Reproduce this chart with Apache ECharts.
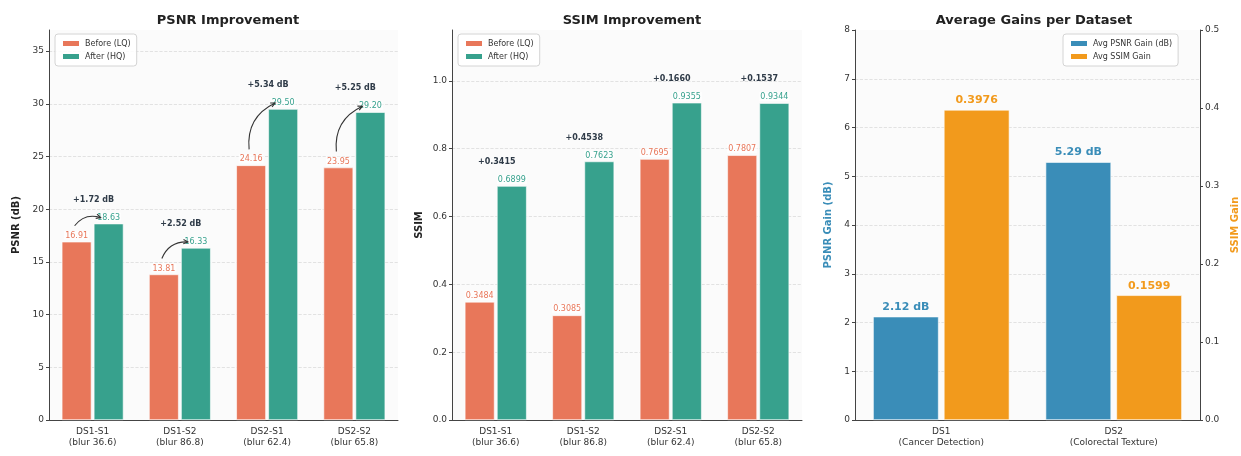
<!DOCTYPE html>
<html>
<head>
<meta charset="utf-8">
<script src="https://cdn.jsdelivr.net/npm/echarts@6/dist/echarts.min.js"></script>
<style>
  html, body { margin: 0; padding: 0; background: #fff; }
  #chart { width: 1241px; height: 456px; }
</style>
</head>
<body>
<div id="chart"></div>
<script>
// Per-subset restoration results
const subsets = ['DS1-S1\n(blur 36.6)', 'DS1-S2\n(blur 86.8)', 'DS2-S1\n(blur 62.4)', 'DS2-S2\n(blur 65.8)'];
const psnrBefore = [16.91, 13.81, 24.16, 23.95];
const psnrAfter = [18.63, 16.33, 29.50, 29.20];
const ssimBefore = [0.3484, 0.3085, 0.7695, 0.7807];
const ssimAfter = [0.6899, 0.7623, 0.9355, 0.9344];

// Per-dataset average gains
const datasets = ['DS1\n(Cancer Detection)', 'DS2\n(Colorectal Texture)'];
const avgPsnrGain = [2.12, 5.29];
const avgSsimGain = [0.3976, 0.1599];

const C_BEFORE = '#E8775A';
const C_AFTER = '#37A18D';
const C_PSNR = '#3A8DB8';
const C_SSIM = '#F29A1C';
const FONT = 'DejaVu Sans';
const BAR_W = 0.34, BAR_GAP = 0.08;

const chart = echarts.init(document.getElementById('chart'), null, { renderer: 'canvas' });

function gridLineColors(n) {
  // dashed guides at every tick except the top edge of the axis
  const arr = [];
  for (let i = 0; i < n; i++) arr.push('#dcdcdc');
  arr.push('rgba(0,0,0,0)');
  return arr;
}

function xCat(gridIndex, data) {
  return {
    type: 'category', gridIndex, data,
    axisLine: { lineStyle: { color: '#444', width: 1 } },
    axisTick: { alignWithLabel: true, length: 3, lineStyle: { color: '#444' } },
    axisLabel: { fontFamily: FONT, fontSize: 9, color: '#333', lineHeight: 11, margin: 6 },
    splitLine: { show: false }
  };
}

function yVal(gridIndex, max, interval, nLines, fmt, name, nameColor, showMax) {
  return {
    type: 'value', gridIndex, min: 0, max, interval,
    name, nameLocation: 'middle', nameGap: 28,
    nameTextStyle: { fontFamily: FONT, fontSize: 10, fontWeight: 'bold', color: nameColor || '#222' },
    axisLine: { show: true, lineStyle: { color: '#444', width: 1 } },
    axisTick: { show: true, length: 3, lineStyle: { color: '#444' } },
    axisLabel: { fontFamily: FONT, fontSize: 9, color: '#333', margin: 5, showMaxLabel: !!showMax, formatter: fmt },
    splitLine: { show: true, lineStyle: { type: 'dashed', color: gridLineColors(nLines), width: 0.8 } }
  };
}

function valueLabel(color, digits) {
  return {
    show: true, position: 'top', distance: 2,
    fontFamily: FONT, fontSize: 8, color,
    backgroundColor: 'rgba(255,255,255,0.75)', padding: [1, 1, 0, 1],
    formatter: p => p.value.toFixed(digits)
  };
}

// Gain annotation (text above each pair, optional curved arrow from before to after)
function gainRenderer(withArrow, digits, unit) {
  return function (params, api) {
    const i = api.value(0), b = api.value(1), a = api.value(2);
    const band = api.size([1, 0])[0];
    const barW = band * BAR_W;
    const off = barW * (1 + BAR_GAP) / 2;
    const pb = api.coord([i, b]);
    const pa = api.coord([i, a]);
    const children = [];
    const gain = a - b;
    children.push({
      type: 'text',
      style: {
        x: pa[0] + 1, y: pa[1] - 24,
        text: '+' + gain.toFixed(digits) + unit,
        align: 'center', verticalAlign: 'middle',
        fontFamily: FONT, fontSize: 8, fontWeight: 'bold', fill: '#2f3b48'
      }
    });
    if (withArrow) {
      const sx = pb[0] - off - 2, sy = pb[1] - 16;
      const ex = pa[0] + off - 8, ey = pa[1] - 6;
      const rad = -0.35;
      const mx = (sx + ex) / 2, my = (sy + ey) / 2;
      const dx = ex - sx, dyUp = -(ey - sy);
      const cx = mx + rad * dyUp;
      const cy = my + rad * dx;
      children.push({
        type: 'bezierCurve',
        shape: { x1: sx, y1: sy, x2: ex, y2: ey, cpx1: cx, cpy1: cy },
        style: { stroke: '#333', fill: null, lineWidth: 1.1 }
      });
      const ang = Math.atan2(ey - cy, ex - cx);
      const L = 5, W = 0.45;
      children.push({
        type: 'polyline',
        shape: { points: [
          [ex - L * Math.cos(ang - W), ey - L * Math.sin(ang - W)],
          [ex, ey],
          [ex - L * Math.cos(ang + W), ey - L * Math.sin(ang + W)]
        ] },
        style: { stroke: '#333', fill: null, lineWidth: 1.1 }
      });
    }
    return { type: 'group', children };
  };
}

const psnrPairs = subsets.map((_, i) => [i, psnrBefore[i], psnrAfter[i]]);
const ssimPairs = subsets.map((_, i) => [i, ssimBefore[i], ssimAfter[i]]);

const titleStyle = { fontFamily: FONT, fontSize: 13, fontWeight: 'bold', color: '#222' };
const legendBase = {
  orient: 'vertical', icon: 'rect', itemWidth: 18, itemHeight: 7, itemGap: 4,
  textStyle: { fontFamily: FONT, fontSize: 8, color: '#333' },
  backgroundColor: 'rgba(255,255,255,0.85)', borderColor: '#d4d4d4', borderWidth: 1,
  borderRadius: 3, padding: [5, 6, 5, 6]
};

const option = {
  backgroundColor: '#ffffff',
  animation: false,
  title: [
    { text: 'PSNR Improvement', left: 223, top: 9, textAlign: 'center', textStyle: titleStyle },
    { text: 'SSIM Improvement', left: 627, top: 9, textAlign: 'center', textStyle: titleStyle },
    { text: 'Average Gains per Dataset', left: 1029, top: 9, textAlign: 'center', textStyle: titleStyle }
  ],
  legend: [
    Object.assign({}, legendBase, { data: ['Before (LQ)', 'After (HQ)'], left: 55, top: 34 }),
    Object.assign({}, legendBase, { data: ['Before (LQ)', 'After (HQ)'], left: 458, top: 34 }),
    Object.assign({}, legendBase, { data: ['Avg PSNR Gain (dB)', 'Avg SSIM Gain'], left: 1063, top: 34 })
  ],
  grid: [
    { left: 49, width: 349, top: 30, bottom: 36, show: true, backgroundColor: '#fbfbfb', borderWidth: 0 },
    { left: 452, width: 350, top: 30, bottom: 36, show: true, backgroundColor: '#fbfbfb', borderWidth: 0 },
    { left: 855, width: 348, top: 30, bottom: 36, show: true, backgroundColor: '#fbfbfb', borderWidth: 0 }
  ],
  xAxis: [xCat(0, subsets), xCat(1, subsets), xCat(2, datasets)],
  yAxis: [
    yVal(0, 37, 5, 8, v => String(v), 'PSNR (dB)'),
    yVal(1, 1.15, 0.2, 6, v => v.toFixed(1), 'SSIM'),
    Object.assign(yVal(2, 8, 1, 8, v => String(v), 'PSNR Gain (dB)', C_PSNR, true), { nameGap: 22 }),
    Object.assign(yVal(2, 0.5, 0.1, 6, v => v.toFixed(1), 'SSIM Gain', C_SSIM, true), {
      position: 'right', nameGap: 30, splitLine: { show: false }
    })
  ],
  series: [
    {
      name: 'Before (LQ)', type: 'bar', xAxisIndex: 0, yAxisIndex: 0, data: psnrBefore,
      barWidth: (BAR_W * 100) + '%', barGap: (BAR_GAP * 100) + '%',
      itemStyle: { color: C_BEFORE, borderColor: '#fff', borderWidth: 0.6 },
      label: valueLabel(C_BEFORE, 2)
    },
    {
      name: 'After (HQ)', type: 'bar', xAxisIndex: 0, yAxisIndex: 0, data: psnrAfter,
      barWidth: (BAR_W * 100) + '%', barGap: (BAR_GAP * 100) + '%',
      itemStyle: { color: C_AFTER, borderColor: '#fff', borderWidth: 0.6 },
      label: valueLabel(C_AFTER, 2)
    },
    {
      name: 'psnr-gain', type: 'custom', xAxisIndex: 0, yAxisIndex: 0, data: psnrPairs,
      encode: { x: 0, y: [1, 2] }, z: 10, clip: false, silent: true,
      renderItem: gainRenderer(true, 2, ' dB')
    },
    {
      name: 'Before (LQ)', type: 'bar', xAxisIndex: 1, yAxisIndex: 1, data: ssimBefore,
      barWidth: (BAR_W * 100) + '%', barGap: (BAR_GAP * 100) + '%',
      itemStyle: { color: C_BEFORE, borderColor: '#fff', borderWidth: 0.6 },
      label: valueLabel(C_BEFORE, 4)
    },
    {
      name: 'After (HQ)', type: 'bar', xAxisIndex: 1, yAxisIndex: 1, data: ssimAfter,
      barWidth: (BAR_W * 100) + '%', barGap: (BAR_GAP * 100) + '%',
      itemStyle: { color: C_AFTER, borderColor: '#fff', borderWidth: 0.6 },
      label: valueLabel(C_AFTER, 4)
    },
    {
      name: 'ssim-gain', type: 'custom', xAxisIndex: 1, yAxisIndex: 1, data: ssimPairs,
      encode: { x: 0, y: [1, 2] }, z: 10, clip: false, silent: true,
      renderItem: gainRenderer(false, 4, '')
    },
    {
      name: 'Avg PSNR Gain (dB)', type: 'bar', xAxisIndex: 2, yAxisIndex: 2, data: avgPsnrGain,
      barWidth: '38%', barGap: '8%',
      itemStyle: { color: C_PSNR, borderColor: '#fff', borderWidth: 0.6 },
      label: {
        show: true, position: 'top', distance: 4, fontFamily: FONT, fontSize: 11, fontWeight: 'bold',
        color: C_PSNR, formatter: p => p.value.toFixed(2) + ' dB'
      }
    },
    {
      name: 'Avg SSIM Gain', type: 'bar', xAxisIndex: 2, yAxisIndex: 3, data: avgSsimGain,
      barWidth: '38%', barGap: '8%',
      itemStyle: { color: C_SSIM, borderColor: '#fff', borderWidth: 0.6 },
      label: {
        show: true, position: 'top', distance: 4, fontFamily: FONT, fontSize: 11, fontWeight: 'bold',
        color: C_SSIM, formatter: p => p.value.toFixed(4)
      }
    }
  ]
};

chart.setOption(option);
</script>
</body>
</html>
